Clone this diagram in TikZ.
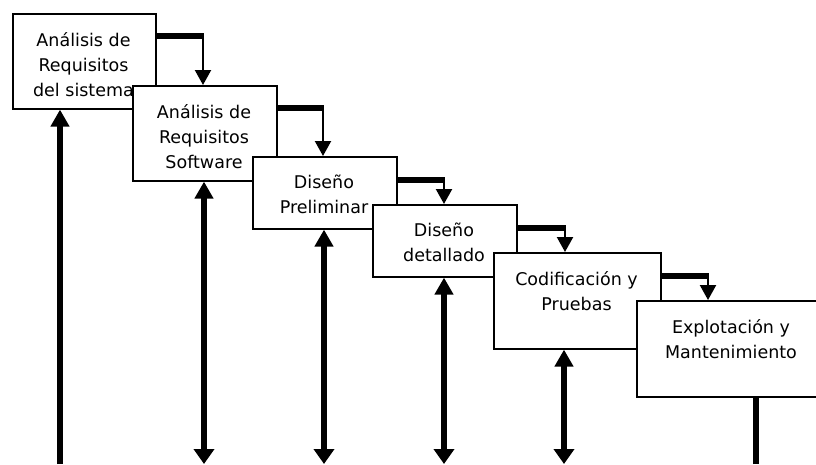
\documentclass[tikz,border=0pt]{standalone}
\usepackage{fontspec}
\setmainfont{DejaVu Sans}
\usetikzlibrary{arrows.meta}
\begin{document}
\begin{tikzpicture}[x=1pt,y=-1pt,
  phase/.style={draw=black, line width=1.6pt, fill=white, rectangle, inner sep=0pt, anchor=north west},
  caption/.style={anchor=north, align=center, inner sep=0pt, font=\fontsize{17.5}{25}\selectfont},
  bar/.style={line width=5.5pt, line cap=butt},
  drop/.style={line width=2.2pt, -{Triangle[width=16pt,length=15pt]}, shorten >=0pt},
  feedback/.style={line width=5.5pt},
  bothtips/.style={{Triangle[width=20pt,length=15pt]}-{Triangle[width=18pt,length=17pt]}}
]
\useasboundingbox (0,0) rectangle (816,464);
\fill[white] (0,0) rectangle (816,464);

% phase boxes, each one laid over the previous
\node[phase, minimum width=143pt, minimum height=95pt] (b1) at (12,13) {};
\node[caption] (t1) at (83.5,32) {Análisis de\\Requisitos\\del sistema};
\node[phase, minimum width=144pt, minimum height=95pt] (b2) at (132,85) {};
\node[caption] (t2) at (204,104) {Análisis de\\Requisitos\\Software};
\node[phase, minimum width=144pt, minimum height=72pt] (b3) at (252,156) {};
\node[caption] (t3) at (324,175) {Diseño\\Preliminar};
\node[phase, minimum width=144pt, minimum height=72pt] (b4) at (372,204) {};
\node[caption] (t4) at (444,223) {Diseño\\detallado};
\node[phase, minimum width=167pt, minimum height=96pt] (b5) at (493,252) {};
\node[caption] (t5) at (576.5,271) {Codificación y\\Pruebas};
\node[phase, minimum width=190pt, minimum height=96pt] (b6) at (636,300) {};
\node[caption] (t6) at (731,319) {Explotación y\\Mantenimiento};

% elbows from one phase into the next
\coordinate (c1) at (203,36);
\coordinate (c2) at (323,108);
\coordinate (c3) at (444,180);
\coordinate (c4) at (565,228);
\coordinate (c5) at (708,276);
\foreach \a/\c/\b in {b1/c1/b2, b2/c2/b3, b3/c3/b4, b4/c4/b5, b5/c5/b6}{
  \draw[bar] (\a.east |- \c) -- ([xshift=1.2pt]\c);
  \draw[drop] ([yshift=2pt]\c) -- (\c |- \b.north);
}

% feedback lines down to the foot
\coordinate (f1) at (60,464);
\coordinate (f2) at (204,464);
\coordinate (f3) at (324,464);
\coordinate (f4) at (444,464);
\coordinate (f5) at (564,464);
\coordinate (f6) at (756,464);
\draw[feedback, -{Triangle[width=18pt,length=17pt]}] (f1) -- (f1 |- b1.south);
\foreach \f/\b in {f2/b2, f3/b3, f4/b4, f5/b5}{
  \draw[feedback, bothtips] (\f) -- (\f |- \b.south);
}
\draw[feedback] (f6) -- (f6 |- b6.south);
\end{tikzpicture}
\end{document}
